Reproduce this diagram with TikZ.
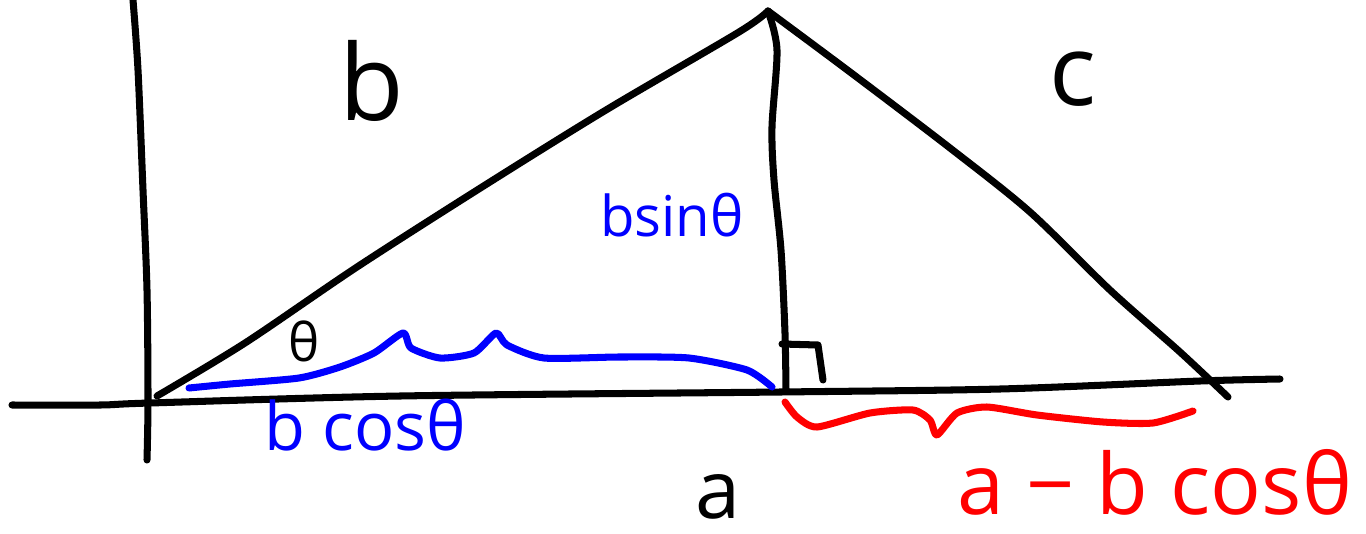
\documentclass[tikz,border=0pt]{standalone}
\usepackage{fontspec}
\setmainfont{Open Sans}
\usetikzlibrary{calc}

\begin{document}
\begin{tikzpicture}[
  x=0.01cm, y=-0.01cm,
  ink/.style={line width=2pt, line cap=round, line join=round},
  axisline/.style={ink, black},
  bbrace/.style={ink, blue},
  rbrace/.style={ink, red},
  bluelbl/.style={anchor=base, text=blue, inner sep=0pt},
  redlbl/.style={anchor=base, text=red, inner sep=0pt},
  sidelbl/.style={anchor=base, text=black, inner sep=0pt}
]
  \useasboundingbox (0,0) rectangle (1366,533);
  % Vertices
  \coordinate (A) at (157,396);
  \coordinate (C) at (768,11);
  \coordinate (B) at (1228,397);
  \coordinate (H) at (786,391);

  % Axes
  \draw[axisline] plot[smooth] coordinates {(12,405) (100,405) (150,403)
    (400,396) (780,392) (1000,389) (1200,381) (1280,379)};
  \draw[axisline] plot[smooth] coordinates {(133,0) (138,70) (143,190)
    (147,290) (148,400) (147,460)};

  % Triangle and altitude
  \draw[ink] plot[smooth] coordinates {(A) (245,343) (357,267) (482,187)
    (606,110) (739,32) (C)};
  \draw[ink] plot[smooth] coordinates {(C) (850,72) (950,148) (1030,212)
    (1110,290) (1180,352) (B)};
  \draw[ink] plot[smooth] coordinates {(C) (777,50) (772,127) (774,180)
    (781,250) (785,333) (H)};
  \coordinate (r1) at (782,344);
  \coordinate (r2) at (818,345);
  \coordinate (r3) at (823,380);
  \draw[ink] (r1) -- (r2) -- (r3);

  % Side labels
  \node[sidelbl, font=\fontsize{30}{32}\selectfont] (lb) at (372,120) {b};
  \node[sidelbl, font=\fontsize{28}{30}\selectfont] (lc) at (1073,105) {c};
  \node[sidelbl, font=\fontsize{23}{25}\selectfont] (la) at (718,518) {a};
  \node[sidelbl, font=\fontsize{15}{17}\selectfont] (lt) at (304,361) {θ};

  % Projections
  \draw[bbrace] plot[smooth, tension=0.4] coordinates {(189,388) (230,384)
    (299,378) (340,367) (374,353) (403,333) (411,348) (440,358) (474,353)
    (496,333) (507,345) (544,358) (619,357) (689,358) (747,370) (772,387)};
  \draw[rbrace] plot[smooth, tension=0.4] coordinates {(785,402) (797,417)
    (817,427) (870,413) (913,410) (930,420) (937,435) (957,413) (987,407)
    (1037,415) (1103,422) (1153,423) (1193,411)};
  \node[bluelbl, font=\fontsize{16}{18}\selectfont] (lbsin) at (672,236) {bsinθ};
  \node[bluelbl, font=\fontsize{19}{21}\selectfont] (lbcos) at (365,450) {b cosθ};
  \node[redlbl, font=\fontsize{24}{26}\selectfont] (ldiff) at (1155,514) {a − b cosθ};
\end{tikzpicture}
\end{document}
